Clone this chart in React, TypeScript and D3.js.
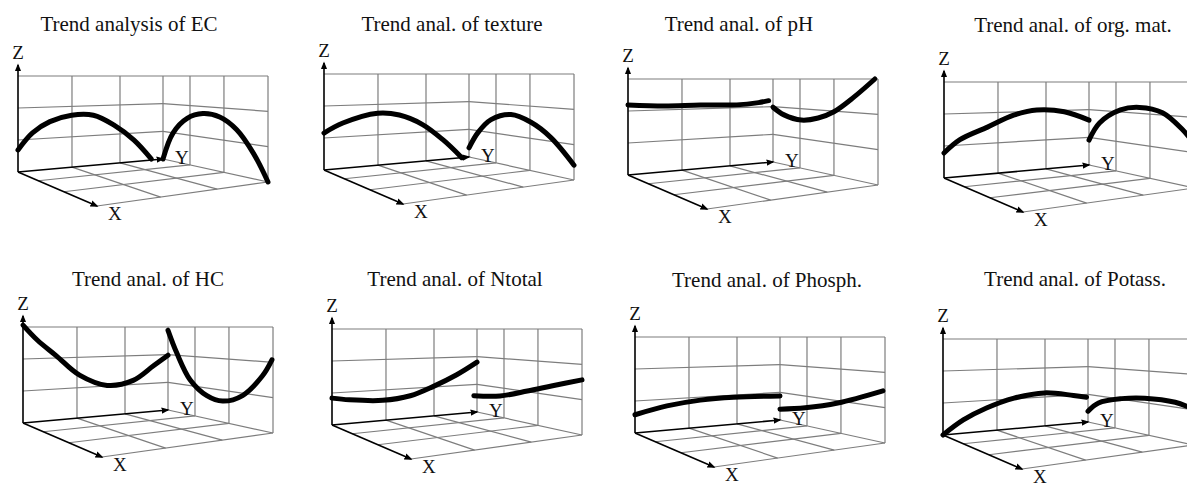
import React from 'react';
import * as d3 from 'd3';

type Pt = [number, number];

const titles = [
  'Trend analysis of EC',
  'Trend anal. of texture',
  'Trend anal. of pH',
  'Trend anal. of org. mat.',
  'Trend anal. of HC',
  'Trend anal. of Ntotal',
  'Trend anal. of Phosph.',
  'Trend anal. of Potass.',
];

// trend curves: [position along the wall (0..1), relative height Z (0..1)]
const ecLeft: Pt[] = [[0, 0.23], [0.1, 0.4], [0.22, 0.51], [0.37, 0.57], [0.52, 0.56], [0.66, 0.44], [0.8, 0.25], [0.92, 0.01]];
const ecRight: Pt[] = [[0, 0.0], [0.095, 0.33], [0.23, 0.52], [0.38, 0.59], [0.54, 0.57], [0.7, 0.46], [0.86, 0.25], [1, 0]];
const textureLeft: Pt[] = [[0, 0.385], [0.13, 0.48], [0.37, 0.57], [0.52, 0.54], [0.68, 0.42], [0.82, 0.23], [0.95, 0.0]];
const textureRight: Pt[] = [[0, 0.11], [0.085, 0.31], [0.21, 0.48], [0.4, 0.56], [0.59, 0.5], [0.78, 0.37], [1, 0.14]];
const phLeft: Pt[] = [[0, 0.73], [0.25, 0.71], [0.5, 0.71], [0.75, 0.7], [0.9, 0.72], [0.97, 0.74]];
const phRight: Pt[] = [[0, 0.66], [0.105, 0.58], [0.27, 0.54], [0.43, 0.58], [0.58, 0.66], [0.77, 0.82], [0.97, 1.0]];
const orgLeft: Pt[] = [[0, 0.26], [0.11, 0.39], [0.3, 0.51], [0.48, 0.63], [0.64, 0.68], [0.83, 0.65], [1, 0.54]];
const orgRight: Pt[] = [[0, 0.3], [0.1, 0.52], [0.3, 0.69], [0.48, 0.73], [0.7, 0.69], [0.89, 0.54], [1, 0.42]];
const hcLeft: Pt[] = [[0, 1.02], [0.1, 0.86], [0.23, 0.69], [0.39, 0.47], [0.58, 0.34], [0.76, 0.38], [0.9, 0.54], [1, 0.66]];
const hcRight: Pt[] = [[0, 0.96], [0.085, 0.69], [0.21, 0.4], [0.37, 0.25], [0.52, 0.22], [0.71, 0.31], [0.9, 0.53], [0.99, 0.69]];
const ntotalLeft: Pt[] = [[0, 0.28], [0.12, 0.25], [0.35, 0.22], [0.54, 0.25], [0.7, 0.34], [0.86, 0.46], [1, 0.6]];
const ntotalRight: Pt[] = [[-0.03, 0.19], [0.22, 0.24], [0.48, 0.34], [0.72, 0.43], [1, 0.52]];
const phosLeft: Pt[] = [[0, 0.19], [0.22, 0.26], [0.45, 0.3], [0.68, 0.31], [1, 0.29]];
const phosRight: Pt[] = [[0, 0.13], [0.24, 0.2], [0.55, 0.31], [0.98, 0.49]];
const potLeft: Pt[] = [[0, 0], [0.14, 0.14], [0.3, 0.25], [0.49, 0.34], [0.7, 0.38], [0.9, 0.33], [0.99, 0.3]];
const potRight: Pt[] = [[0, 0.13], [0.1, 0.25], [0.32, 0.34], [0.54, 0.38], [0.83, 0.38], [1, 0.34]];

const leftCurves = [ecLeft, textureLeft, phLeft, orgLeft, hcLeft, ntotalLeft, phosLeft, potLeft];
const rightCurves = [ecRight, textureRight, phRight, orgRight, hcRight, ntotalRight, phosRight, potRight];

const gridStops = [1 / 3, 2 / 3];

// where each small box sits on the page (axis origin + title anchor)
const layout = [
  { ox: 18, oy: 172, tx: 129, ty: 31 },
  { ox: 324, oy: 170, tx: 452, ty: 31 },
  { ox: 628, oy: 175, tx: 739, ty: 31 },
  { ox: 944, oy: 178, tx: 1073, ty: 32 },
  { ox: 23, oy: 423, tx: 148, ty: 286 },
  { ox: 332, oy: 425, tx: 455, ty: 286 },
  { ox: 635, oy: 433, tx: 767, ty: 287 },
  { ox: 943, oy: 435, tx: 1075, ty: 286 },
];

const W = 1187;
const H = 486;
const BACK_W = 145;
const BACK_RISE = 13;
const SIDE_W = 105;
const SIDE_DROP = 23;
const WALL_H = 96;
const X_DX = 79;
const X_DY = 34;
const GRID = '#7d7d7d';
const FONT = '"Liberation Serif", "Times New Roman", serif';

// fake perspective for grid spacing
const persp = (t: number, r: number) => t / (t + r * (1 - t));
const BACK_R = 0.843;
const SIDE_R = 1.445;

function Panel({ i }: { i: number }) {
  const { ox, oy, tx, ty } = layout[i];
  const top = oy - WALL_H;

  const bx = d3.scaleLinear().domain([0, 1]).range([ox, ox + BACK_W]);
  const by = d3.scaleLinear().domain([0, 1]).range([oy, oy - BACK_RISE]);
  const sx = d3.scaleLinear().domain([0, 1]).range([ox + BACK_W, ox + BACK_W + SIDE_W]);
  const sy = d3.scaleLinear().domain([0, 1]).range([oy - BACK_RISE, oy - BACK_RISE + SIDE_DROP]);
  const zAt = (base: number, v: number) => d3.scaleLinear().domain([0, 1]).range([base, top])(v);

  // floor corners
  const O: Pt = [ox, oy];
  const Yc: Pt = [bx(1), by(1)];
  const Far: Pt = [sx(1), sy(1)];
  const Xt: Pt = [ox + X_DX, oy + X_DY];
  const floor = (u: number, v: number): Pt => {
    const a = d3.interpolateArray(O, Yc)(u) as number[];
    const b = d3.interpolateArray(Xt, Far)(u) as number[];
    return d3.interpolateArray(a, b)(v) as Pt;
  };

  const seg = (p: Pt, q: Pt) => d3.line<Pt>()([p, q]) || '';

  const grid: string[] = [];
  // floor grid
  gridStops.forEach((s) => {
    const u = persp(s, BACK_R);
    grid.push(seg(floor(u, 0), floor(u, 1)));
    const v = persp(s, SIDE_R);
    grid.push(seg(floor(0, v), floor(1, v)));
  });
  grid.push(seg(Xt, Far));
  grid.push(seg(Yc, Far));
  // back wall
  [...gridStops.map((s) => persp(s, BACK_R)), 1].forEach((u) => {
    grid.push(seg([bx(u), by(u)], [bx(u), top]));
  });
  gridStops.forEach((h) => {
    grid.push(seg([bx(0), zAt(by(0), h)], [bx(1), zAt(by(1), h)]));
    grid.push(seg([sx(0), zAt(sy(0), h)], [sx(1), zAt(sy(1), h)]));
  });
  // side wall
  [...gridStops.map((s) => persp(s, SIDE_R)), 1].forEach((v) => {
    grid.push(seg([sx(v), sy(v)], [sx(v), top]));
  });
  grid.push(seg([ox, top], [sx(1), top]));

  const curveLine = d3.line<Pt>().curve(d3.curveCatmullRom.alpha(0.5));
  const leftPath = curveLine(leftCurves[i].map(([p, v]) => [bx(p), zAt(by(p), v)] as Pt)) || '';
  const rightPath = curveLine(rightCurves[i].map(([p, v]) => [sx(p), zAt(sy(p), v)] as Pt)) || '';

  return (
    <g>
      <text x={tx} y={ty} textAnchor="middle" fontFamily={FONT} fontSize={21} fill="#111">
        {titles[i]}
      </text>
      {grid.map((d, k) => (
        <path key={k} d={d} fill="none" stroke={GRID} strokeWidth={1.2} />
      ))}
      <path d={seg(O, [ox, oy - 107])} stroke="#000" strokeWidth={1.6} markerEnd="url(#arr)" />
      <path d={seg(O, Yc)} stroke="#000" strokeWidth={1.6} markerEnd="url(#arr)" />
      <path d={seg(O, Xt)} stroke="#000" strokeWidth={1.6} markerEnd="url(#arr)" />
      <path d={leftPath} fill="none" stroke="#000" strokeWidth={5} strokeLinecap="round" />
      <path d={rightPath} fill="none" stroke="#000" strokeWidth={5} strokeLinecap="round" />
      <text x={ox} y={oy - 113} textAnchor="middle" fontFamily={FONT} fontSize={19} fill="#111">Z</text>
      <text x={Yc[0] + 12} y={Yc[1] + 5} fontFamily={FONT} fontSize={19} fill="#111">Y</text>
      <text x={Xt[0] + 11} y={Xt[1] + 14} fontFamily={FONT} fontSize={19} fill="#111">X</text>
    </g>
  );
}

export default function App() {
  return (
    <div style={{ position: 'absolute', left: 0, top: 0 }}>
      <svg width={W} height={H} style={{ display: 'block', background: '#fff' }}>
        <defs>
          <marker id="arr" viewBox="0 0 10 10" refX={8} refY={5} markerWidth={8} markerHeight={8}
            markerUnits="userSpaceOnUse" orient="auto">
            <path d="M0,1 L10,5 L0,9 z" fill="#000" />
          </marker>
        </defs>
        {titles.map((_, i) => (
          <Panel key={i} i={i} />
        ))}
      </svg>
    </div>
  );
}
